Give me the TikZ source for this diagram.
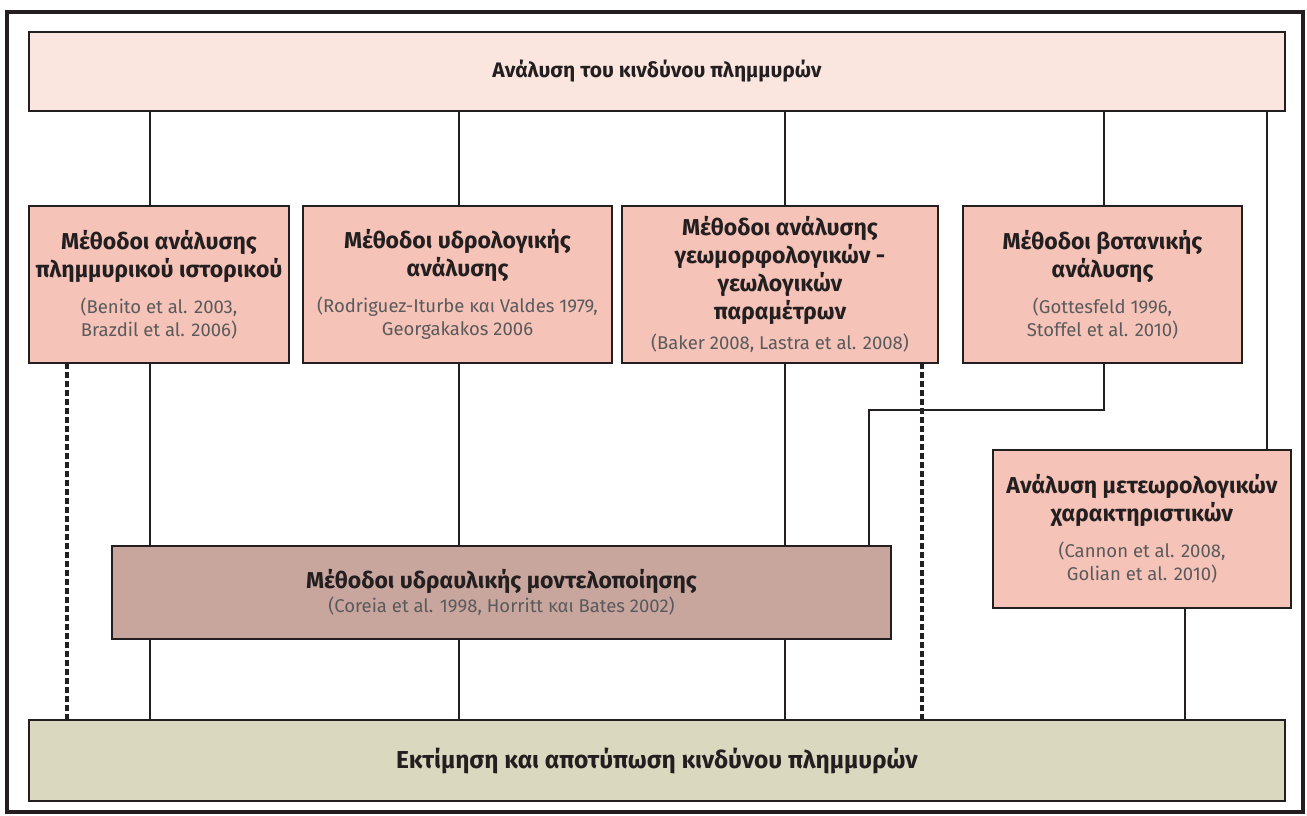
\documentclass[tikz,border=0pt]{standalone}
\usepackage{fontspec}
\setmainfont{Fira Sans}
\definecolor{linec}{HTML}{231F20}
\definecolor{refc}{HTML}{5A5A5C}
\definecolor{topfill}{HTML}{FBE6DF}
\definecolor{rowfill}{HTML}{F5C3B7}
\definecolor{hydfill}{HTML}{C8A69D}
\definecolor{botfill}{HTML}{DAD8BF}
\newcommand{\reftxt}[1]{{\mdseries\color{refc}\fontsize{18.5}{22}\selectfont #1}}
\tikzset{
  basebox/.style={draw=linec, line width=2pt, align=center, inner sep=0pt, outer sep=0pt,
    anchor=north west, text=linec, font=\bfseries\fontsize{23}{28}\selectfont},
  rowbox/.style={basebox, fill=rowfill},
  conn/.style={draw=linec, line width=2.3pt},
  dashconn/.style={draw=linec, line width=3.8pt, dash pattern=on 6pt off 3pt},
  framebox/.style={draw=linec, line width=3.5pt, inner sep=0pt, outer sep=0pt, anchor=north west}
}
\begin{document}
\begin{tikzpicture}[x=1pt,y=-1pt]
\useasboundingbox[fill=white] (0,0) rectangle (1307,816);
\node[framebox, minimum width=1296pt, minimum height=800pt] (frame) at (7,12) {};
% top and bottom
\node[basebox, fill=topfill, minimum width=1256pt, minimum height=79pt,
  font=\bfseries\fontsize{21}{25}\selectfont] (top) at (29,32) {\raisebox{-4pt}{Ανάλυση του κινδύνου πλημμυρών}};
\node[basebox, fill=botfill, minimum width=1256pt, minimum height=81pt,
  font=\bfseries\fontsize{24.5}{28}\selectfont] (bot) at (29,720) {Εκτίμηση και αποτύπωση κινδύνου πλημμυρών};
% row of method boxes
\node[rowbox, minimum width=260pt, minimum height=157pt] (b1) at (29,206)
  {Μέθοδοι ανάλυσης\\πλημμυρικού ιστορικού\\[8pt]\reftxt{(Benito et al. 2003,}\\[-5pt]\reftxt{Brazdil et al. 2006)}};
\node[rowbox, minimum width=309pt, minimum height=157pt] (b2) at (303,206)
  {Μέθοδοι υδρολογικής\\ανάλυσης\\[8pt]\reftxt{(Rodriguez-Iturbe και Valdes 1979,}\\[-5pt]\reftxt{Georgakakos 2006}};
\node[rowbox, minimum width=316pt, minimum height=157pt] (b3) at (622,206)
  {Μέθοδοι ανάλυσης\\γεωμορφολογικών -\\γεωλογικών\\παραμέτρων\\[2pt]\reftxt{(Baker 2008, Lastra et al. 2008)}};
\node[rowbox, minimum width=279pt, minimum height=157pt] (b4) at (963,206)
  {Μέθοδοι βοτανικής\\ανάλυσης\\[8pt]\reftxt{(Gottesfeld 1996,}\\[-5pt]\reftxt{Stoffel et al. 2010)}};
% hydraulic and meteorological
\node[basebox, fill=hydfill, minimum width=779pt, minimum height=93pt] (hyd) at (112,546)
  {Μέθοδοι υδραυλικής μοντελοποίησης\\[-4pt]\reftxt{(Coreia et al. 1998, Horritt και Bates 2002)}};
\node[rowbox, minimum width=298pt, minimum height=158pt] (met) at (993,450)
  {Ανάλυση μετεωρολογικών\\χαρακτηριστικών\\[8pt]\reftxt{(Cannon et al. 2008,}\\[-5pt]\reftxt{Golian et al. 2010)}};
% x positions of connectors
\coordinate (xa) at (150,0);
\coordinate (xb) at (459,0);
\coordinate (xc) at (785,0);
\coordinate (xd) at (1104,0);
\coordinate (xe) at (1267,0);
\coordinate (xf) at (869,0);
\coordinate (xg) at (1185,0);
\coordinate (da) at (67,0);
\coordinate (db) at (922,0);
\coordinate (elbowR) at (1104,410);
\coordinate (elbowL) at (869,410);
% top to row
\draw[conn] (xa |- top.south) -- (xa |- b1.north);
\draw[conn] (xb |- top.south) -- (xb |- b2.north);
\draw[conn] (xc |- top.south) -- (xc |- b3.north);
\draw[conn] (xd |- top.south) -- (xd |- b4.north);
\draw[conn] (xe |- top.south) -- (xe |- met.north);
% row to hydraulic
\draw[conn] (xa |- b1.south) -- (xa |- hyd.north);
\draw[conn] (xb |- b2.south) -- (xb |- hyd.north);
\draw[conn] (xc |- b3.south) -- (xc |- hyd.north);
\draw[conn] (xd |- b4.south) -- (elbowR) -- (elbowL) -- (xf |- hyd.north);
% hydraulic to bottom
\draw[conn] (xa |- hyd.south) -- (xa |- bot.north);
\draw[conn] (xb |- hyd.south) -- (xb |- bot.north);
\draw[conn] (xc |- hyd.south) -- (xc |- bot.north);
\draw[conn] (xg |- met.south) -- (xg |- bot.north);
% dashed
\draw[dashconn] (da |- b1.south) -- (da |- bot.north);
\draw[dashconn] (db |- b3.south) -- (db |- bot.north);
\end{tikzpicture}
\end{document}
